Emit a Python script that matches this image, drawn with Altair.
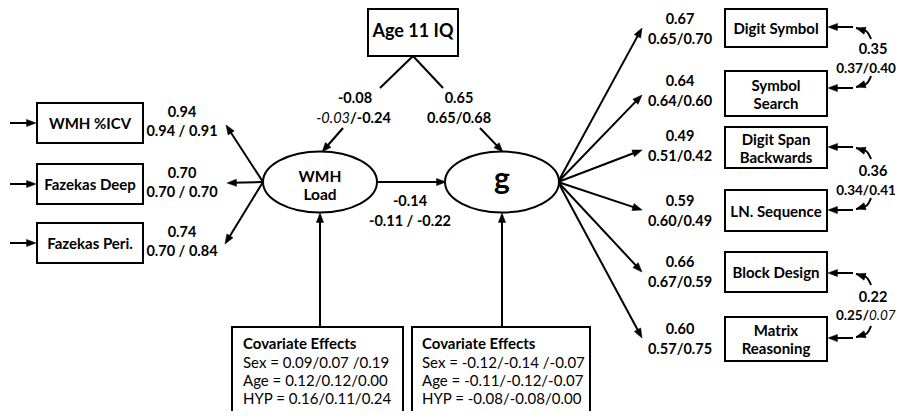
import math
import altair as alt
import pandas as pd

# ------------------------------------------------------------------ content
left_indicators = ["WMH %ICV", "Fazekas Deep", "Fazekas Peri."]
left_loadings = ["0.94", "0.70", "0.74"]
left_loadings_groups = ["0.94 / 0.91", "0.70 / 0.70", "0.70 / 0.84"]

right_indicators = ["Digit Symbol", "Symbol\nSearch", "Digit Span\nBackwards",
                    "LN. Sequence", "Block Design", "Matrix\nReasoning"]
right_loadings = ["0.67", "0.64", "0.49", "0.59", "0.66", "0.60"]
right_loadings_groups = ["0.65/0.70", "0.64/0.60", "0.51/0.42",
                         "0.60/0.49", "0.67/0.59", "0.57/0.75"]

resid_corr = ["0.35", "0.36", "0.22"]
resid_corr_groups_bold = ["0.37/0.40", "0.34/0.41", "0.25/"]
resid_corr_groups_italic = ["", "", "0.07"]

latent_labels = ["WMH\nLoad", "g"]
iq_label = "Age 11 IQ"
iq_to_wmh = ["-0.08", "-0.03", "/-0.24"]     # main, italic part, bold part
iq_to_g = ["0.65", "0.65/0.68"]
wmh_to_g = ["-0.14", "-0.11 / -0.22"]

cov_title = "Covariate Effects"
cov_wmh = ["Sex = 0.09/0.07 /0.19", "Age = 0.12/0.12/0.00", "HYP = 0.16/0.11/0.24"]
cov_g = ["Sex = -0.12/-0.14 /-0.07", "Age = -0.11/-0.12/-0.07", "HYP = -0.08/-0.08/0.00"]

# ------------------------------------------------------------------ layout (diagram positions)
FONT = "Lato"
LH = 18
L_BOX_X = (37, 143)
L_BOX_Y = [(103, 143), (164, 204), (223, 263)]
R_BOX_X = (725, 827)
R_BOX_Y = [(9, 47), (71, 116), (127, 168), (190, 231), (252, 292), (317, 361)]
R_ARROW_Y = [27, 88, 147, 210, 273, 338]
IQ_BOX = (368, 458, 9, 56)
WMH_C = (320, 182)
G_C = (502, 182)
RX, RY = 57, 30.5
COV_BOXES = [(232, 403, 327, 416), (412, 590, 327, 416)]

rules, heads, curves = [], [], []


def arrow(x1, y1, x2, y2, head=True):
    dx, dy = x2 - x1, y2 - y1
    ln = math.hypot(dx, dy)
    cut = 5 if head else 0
    rules.append(dict(x=x1, y=y1, x2=x2 - dx / ln * cut, y2=y2 - dy / ln * cut))
    if head:
        heads.append(dict(x=x2, y=y2, angle=math.degrees(math.atan2(dx, -dy)) % 360))


def curve(cid, pts):
    for i, (x, y) in enumerate(pts):
        curves.append(dict(cid=cid, i=i, x=x, y=y))
    (xa, ya), (xb, yb) = pts[-2], pts[-1]
    heads.append(dict(x=xb, y=yb, angle=math.degrees(math.atan2(xb - xa, -(yb - ya))) % 360))


# left measurement model
wl = (WMH_C[0] - RX, WMH_C[1])
for (y0, y1), tip in zip(L_BOX_Y, [(226, 125), (227, 183), (225, 244)]):
    arrow(wl[0], wl[1], tip[0], tip[1])
    arrow(10, (y0 + y1) / 2, L_BOX_X[0] - 1, (y0 + y1) / 2)

# right measurement model
gr = (G_C[0] + 56, G_C[1])
for ya in [28, 95, 150, 210, 272, 338]:
    arrow(gr[0], gr[1], 642, ya)
for ya in R_ARROW_Y:
    arrow(853, ya, R_BOX_X[1] + 1, ya)

# residual covariances (pairs)
for k in range(3):
    yt, yb = R_ARROW_Y[2 * k], R_ARROW_Y[2 * k + 1]
    curve(2 * k, [(871, yt + 12), (866, yt + 4), (856, yt + 1)])
    curve(2 * k + 1, [(871, yb - 12), (866, yb - 4), (856, yb - 1)])

# structural paths
apex = ((IQ_BOX[0] + IQ_BOX[1]) / 2, IQ_BOX[3])
arrow(apex[0], apex[1], 380, 88, head=False)
arrow(apex[0], apex[1], 443, 88, head=False)
arrow(343, 128, 322, 152)
arrow(480, 128, 503, 152)
arrow(WMH_C[0] + RX, 182, G_C[0] - 56, 182)
arrow(WMH_C[0], 327, WMH_C[0], 213)
arrow(G_C[0], 327, G_C[0], 213)

boxes = [dict(x=L_BOX_X[0], x2=L_BOX_X[1], y=a, y2=b) for a, b in L_BOX_Y]
boxes += [dict(x=R_BOX_X[0], x2=R_BOX_X[1], y=a, y2=b) for a, b in R_BOX_Y]
boxes += [dict(x=IQ_BOX[0], x2=IQ_BOX[1], y=IQ_BOX[2], y2=IQ_BOX[3])]
boxes += [dict(x=a, x2=b, y=c, y2=d) for a, b, c, d in COV_BOXES]

ellipses = [dict(x=WMH_C[0], y=WMH_C[1]), dict(x=G_C[0], y=G_C[1])]

# text tables
num_bold = []
for i in range(3):
    yc = (L_BOX_Y[i][0] + L_BOX_Y[i][1]) / 2
    num_bold.append(dict(x=182, y=yc - 10, t=left_loadings[i]))
    num_bold.append(dict(x=182, y=yc + 9, t=left_loadings_groups[i]))
for i, yl in enumerate([20, 82, 137, 202, 263, 330]):
    num_bold.append(dict(x=680, y=yl, t=right_loadings[i]))
    num_bold.append(dict(x=680, y=yl + 20, t=right_loadings_groups[i]))
num_bold.append(dict(x=355, y=99, t=iq_to_wmh[0]))
num_bold.append(dict(x=459, y=99, t=iq_to_g[0]))
num_bold.append(dict(x=459, y=119, t=iq_to_g[1]))
num_bold.append(dict(x=410, y=202, t=wmh_to_g[0]))
num_bold.append(dict(x=410, y=222, t=wmh_to_g[1]))

corr_main = [dict(x=873, y=yl, t=resid_corr[k]) for k, yl in enumerate([50, 172, 298])]
corr_sub = []
split_bold = [dict(x=350, y=119, t=iq_to_wmh[2], a="left")]
split_ital = [dict(x=350, y=119, t=iq_to_wmh[1], a="right")]
corr_split_b, corr_split_i = [], []
for k, yl in enumerate([69, 191, 316]):
    if resid_corr_groups_italic[k]:
        corr_split_b.append(dict(x=869, y=yl, t=resid_corr_groups_bold[k]))
        corr_split_i.append(dict(x=869, y=yl, t=resid_corr_groups_italic[k]))
    else:
        corr_sub.append(dict(x=866, y=yl, t=resid_corr_groups_bold[k]))

box_text = [dict(x=sum(L_BOX_X) / 2, y=sum(L_BOX_Y[i]) / 2 + 1, t=left_indicators[i]) for i in range(3)]
box_text += [dict(x=sum(R_BOX_X) / 2, y=sum(R_BOX_Y[i]) / 2 + 1, t=right_indicators[i]) for i in range(6)]

cov_title_rows = [dict(x=243, y=344, t=cov_title), dict(x=422, y=344, t=cov_title)]
cov_rows = []
for j in range(3):
    cov_rows.append(dict(x=243, y=363 + 18 * j, t=cov_wmh[j]))
    cov_rows.append(dict(x=422, y=363 + 18 * j, t=cov_g[j]))

# ------------------------------------------------------------------ chart
XS = alt.Scale(domain=[8, 899], nice=False, zero=False)
YS = alt.Scale(domain=[8, 411], nice=False, zero=False, reverse=True)
X = alt.X("x:Q", scale=XS, axis=None)
Y = alt.Y("y:Q", scale=YS, axis=None)

rule_layer = alt.Chart(pd.DataFrame(rules)).mark_rule(color="black", strokeWidth=2).encode(
    x=X, y=Y, x2="x2:Q", y2="y2:Q")

curve_layer = alt.Chart(pd.DataFrame(curves)).mark_line(
    color="black", strokeWidth=2, interpolate="natural").encode(
    x=X, y=Y, detail="cid:N", order="i:Q")

box_layer = alt.Chart(pd.DataFrame(boxes)).mark_rect(
    fill="white", stroke="black", strokeWidth=2).encode(x=X, y=Y, x2="x2:Q", y2="y2:Q")

k = RY / RX
ell_path = f"M-1,0 A1,{k:.4f} 0 1,1 1,0 A1,{k:.4f} 0 1,1 -1,0 Z"
ell_layer = alt.Chart(pd.DataFrame(ellipses)).mark_point(
    shape=ell_path, size=(2 * RX) ** 2, filled=True, fill="white", stroke="black",
    strokeWidth=2, opacity=1).encode(x=X, y=Y)

head_path = "M0,0 L-0.8,2.1 L0.8,2.1 Z"
head_layer = alt.Chart(pd.DataFrame(heads)).mark_point(
    shape=head_path, size=81, filled=True, fill="black", stroke="black", strokeWidth=0.5,
    opacity=1).encode(x=X, y=Y, angle=alt.Angle("angle:Q", scale=None))


def text_layer(rows, size, weight="bold", style="normal", align="center"):
    df = pd.DataFrame(rows)
    # centre multi-line blocks vertically on their anchor
    df["y"] = [r["y"] - (r["t"].count("\n")) * LH / 2 for r in rows]
    return alt.Chart(df).mark_text(
        font=FONT, fontSize=size, fontWeight=weight, fontStyle=style, color="black",
        baseline="middle", align=align, lineBreak="\n", lineHeight=LH).encode(x=X, y=Y, text="t:N")


t_num = text_layer(num_bold, 14.5)
t_corr_main = text_layer(corr_main, 14.5)
t_corr_sub = text_layer(corr_sub, 13.5)
t_box = text_layer(box_text, 15)
t_split_b = text_layer(split_bold, 14.5, align="left")
t_split_i = text_layer(split_ital, 14.5, weight="normal", style="italic", align="right")
t_csplit_b = text_layer(corr_split_b, 13.5, align="right")
t_csplit_i = text_layer(corr_split_i, 13.5, weight="normal", style="italic", align="left")
t_lat1 = text_layer([dict(x=WMH_C[0], y=186, t=latent_labels[0])], 15.5)
t_lat2 = text_layer([dict(x=G_C[0], y=180, t=latent_labels[1])], 30)
t_iq = text_layer([dict(x=413, y=32, t=iq_label)], 18)
t_covt = text_layer(cov_title_rows, 15, align="left")
t_covr = text_layer(cov_rows, 15, weight="normal", align="left")

chart = alt.layer(
    rule_layer, curve_layer, box_layer, ell_layer, head_layer,
    t_num, t_corr_main, t_corr_sub, t_box, t_split_b, t_split_i, t_csplit_b, t_csplit_i,
    t_lat1, t_lat2, t_iq, t_covt, t_covr,
).properties(
    width=891, height=403, padding=0,
    autosize=alt.AutoSizeParams(type="none"),
).configure_view(stroke=None)

chart.save("out.html", embed_options={"renderer": "svg", "actions": False})
